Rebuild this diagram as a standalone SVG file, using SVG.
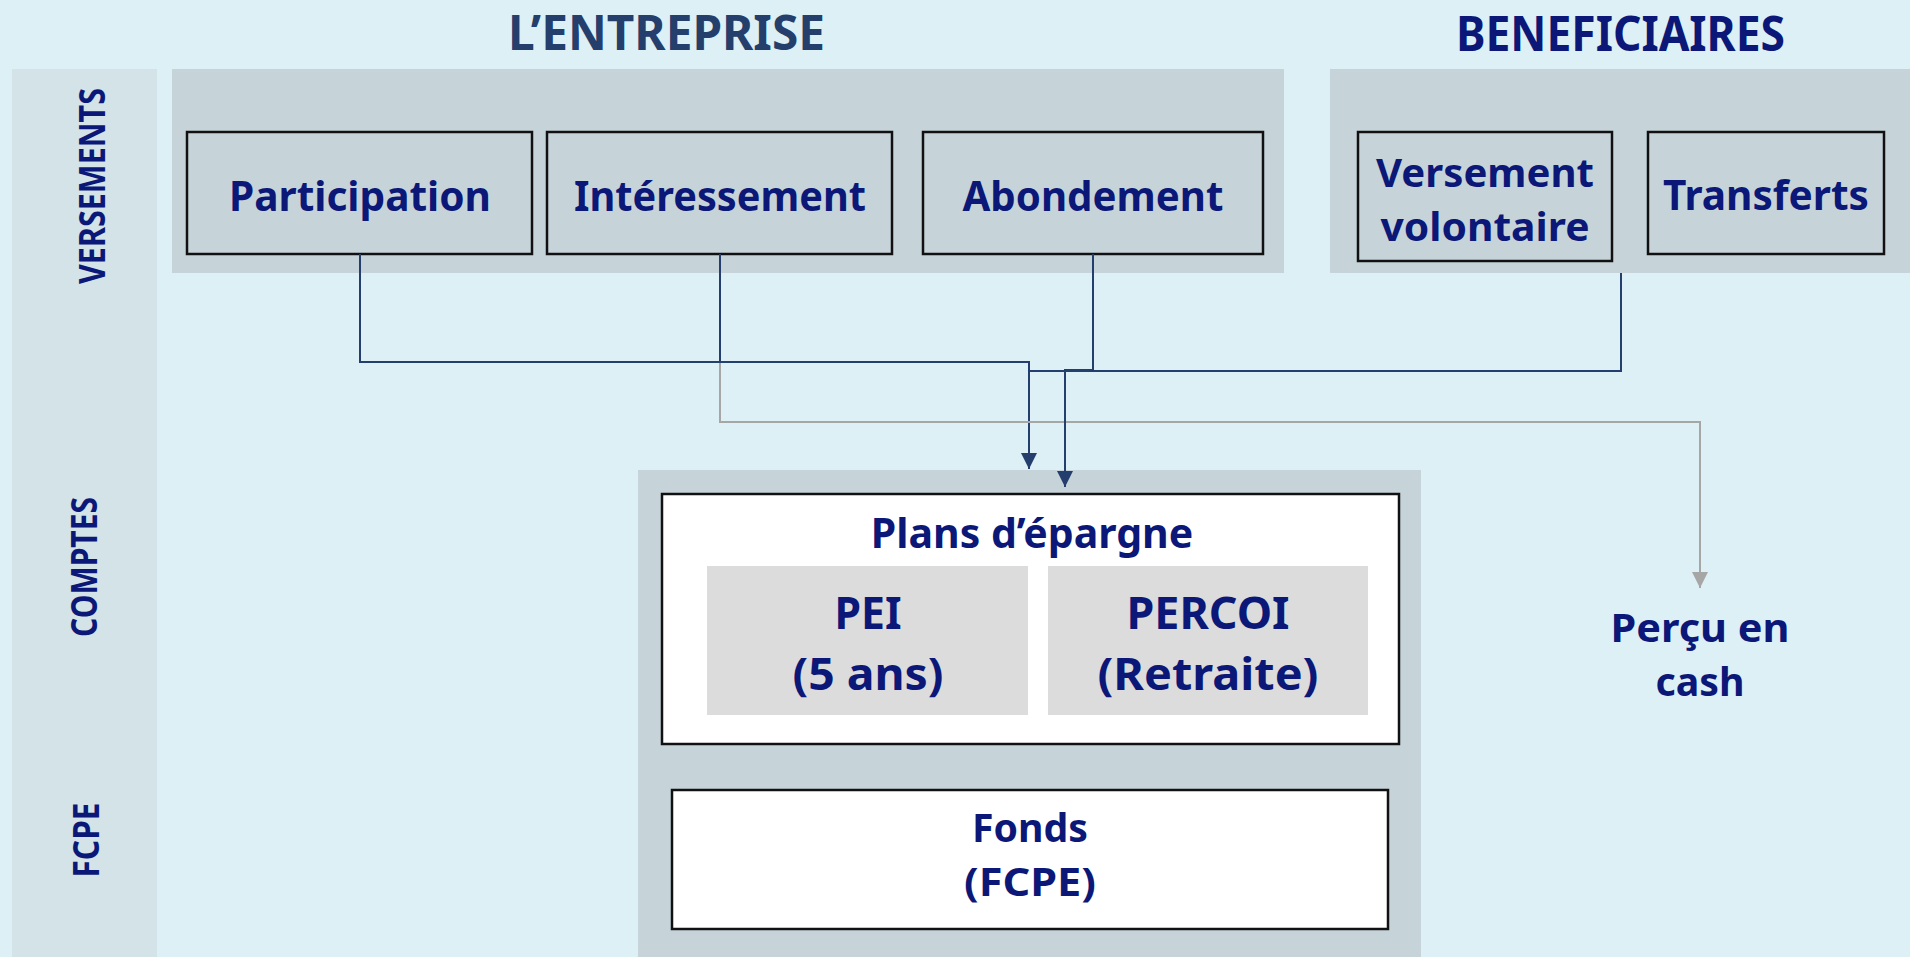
<svg xmlns="http://www.w3.org/2000/svg" width="1910" height="957" viewBox="0 0 1910 957">
<style>
.t{font-family:"Noto Sans","Open Sans","DejaVu Sans",sans-serif;font-weight:bold;fill:#0b1878;text-anchor:middle}
.box{fill:#c6d4da;stroke:#111;stroke-width:2.5}
.wbox{fill:#fff;stroke:#111;stroke-width:2.5}
.sub{fill:#dcdcdc}
.panel{fill:#c6d4da}
.dk{fill:none;stroke:#243f6e;stroke-width:2}
.gr{fill:none;stroke:#a6a6a6;stroke-width:2}
</style>
<defs>
<marker id="ad" markerUnits="userSpaceOnUse" viewBox="0 0 16 16" markerWidth="16" markerHeight="16" refX="16" refY="8" orient="auto"><path d="M0,0 L16,8 L0,16 z" fill="#243f6e"/></marker>
<marker id="ag" markerUnits="userSpaceOnUse" viewBox="0 0 16 16" markerWidth="16" markerHeight="16" refX="16" refY="8" orient="auto"><path d="M0,0 L16,8 L0,16 z" fill="#a6a6a6"/></marker>
</defs>
<rect x="0" y="0" width="1910" height="957" fill="#ddf0f6"/>
<g id="bands">
<rect x="12" y="69" width="145" height="888" fill="#d3e3e8"/>
<text class="t" font-size="36" textLength="196" lengthAdjust="spacingAndGlyphs" transform="translate(105,186) rotate(-90)">VERSEMENTS</text>
<text class="t" font-size="36" textLength="140" lengthAdjust="spacingAndGlyphs" transform="translate(97,567) rotate(-90)">COMPTES</text>
<text class="t" font-size="36" textLength="75" lengthAdjust="spacingAndGlyphs" transform="translate(99,840) rotate(-90)">FCPE</text>
</g>
<g id="titles">
<text class="t" x="666.5" y="50" font-size="48" textLength="317" lengthAdjust="spacingAndGlyphs" style="fill:#243f6b">L’ENTREPRISE</text>
<text class="t" x="1620.5" y="51" font-size="48" textLength="329" lengthAdjust="spacingAndGlyphs">BENEFICIAIRES</text>
</g>
<g id="panels">
<rect class="panel" x="172" y="69" width="1112" height="204"/>
<rect class="panel" x="1330" y="69" width="580" height="204"/>
<rect class="panel" x="638" y="470" width="783" height="487"/>
</g>
<g id="participation">
<rect class="box" x="187" y="132" width="345" height="122"/>
<text class="t" x="360" y="211" font-size="42" textLength="262" lengthAdjust="spacingAndGlyphs">Participation</text>
</g>
<g id="interessement">
<rect class="box" x="547" y="132" width="345" height="122"/>
<text class="t" x="720" y="211" font-size="42" textLength="292" lengthAdjust="spacingAndGlyphs">Intéressement</text>
</g>
<g id="abondement">
<rect class="box" x="923" y="132" width="340" height="122"/>
<text class="t" x="1093" y="211" font-size="42" textLength="261" lengthAdjust="spacingAndGlyphs">Abondement</text>
</g>
<g id="versement">
<rect class="box" x="1358" y="132" width="254" height="129"/>
<text class="t" font-size="39"><tspan x="1485" y="187" textLength="218" lengthAdjust="spacingAndGlyphs">Versement</tspan><tspan x="1485" y="241" textLength="209" lengthAdjust="spacingAndGlyphs">volontaire</tspan></text>
</g>
<g id="transferts">
<rect class="box" x="1648" y="132" width="236" height="122"/>
<text class="t" x="1766" y="210" font-size="42" textLength="206" lengthAdjust="spacingAndGlyphs">Transferts</text>
</g>
<g id="connectors">
<polyline class="dk" points="360,254 360,362 1029,362 1029,469" marker-end="url(#ad)"/>
<polyline class="dk" points="720,254 720,362"/>
<polyline class="gr" points="720,363 720,422 1700,422 1700,588" marker-end="url(#ag)"/>
<polyline class="dk" points="1093,254 1093,370 1065,370 1065,487" marker-end="url(#ad)"/>
<polyline class="dk" points="1621,273 1621,371 1029,371"/>
</g>
<g id="plans">
<rect class="wbox" x="662" y="494" width="737" height="250"/>
<text class="t" x="1032" y="548" font-size="41">Plans d’épargne</text>
</g>
<g id="pei">
<rect class="sub" x="707" y="566" width="321" height="149"/>
<text class="t" font-size="44.5"><tspan x="868" y="629" textLength="67" lengthAdjust="spacingAndGlyphs">PEI</tspan><tspan x="868" y="690" textLength="151" lengthAdjust="spacingAndGlyphs">(5 ans)</tspan></text>
</g>
<g id="percoi">
<rect class="sub" x="1048" y="566" width="320" height="149"/>
<text class="t" font-size="44.5"><tspan x="1208" y="629" textLength="163" lengthAdjust="spacingAndGlyphs">PERCOI</tspan><tspan x="1208" y="690" textLength="221" lengthAdjust="spacingAndGlyphs">(Retraite)</tspan></text>
</g>
<g id="fonds">
<rect class="wbox" x="672" y="790" width="716" height="139"/>
<text class="t" font-size="39"><tspan x="1030" y="842" textLength="116" lengthAdjust="spacingAndGlyphs">Fonds</tspan><tspan x="1030" y="896" textLength="132" lengthAdjust="spacingAndGlyphs">(FCPE)</tspan></text>
</g>
<g id="cash">
<text class="t" font-size="39"><tspan x="1700" y="642" textLength="179" lengthAdjust="spacingAndGlyphs">Perçu en</tspan><tspan x="1700" y="696" textLength="89" lengthAdjust="spacingAndGlyphs">cash</tspan></text>
</g>
</svg>
